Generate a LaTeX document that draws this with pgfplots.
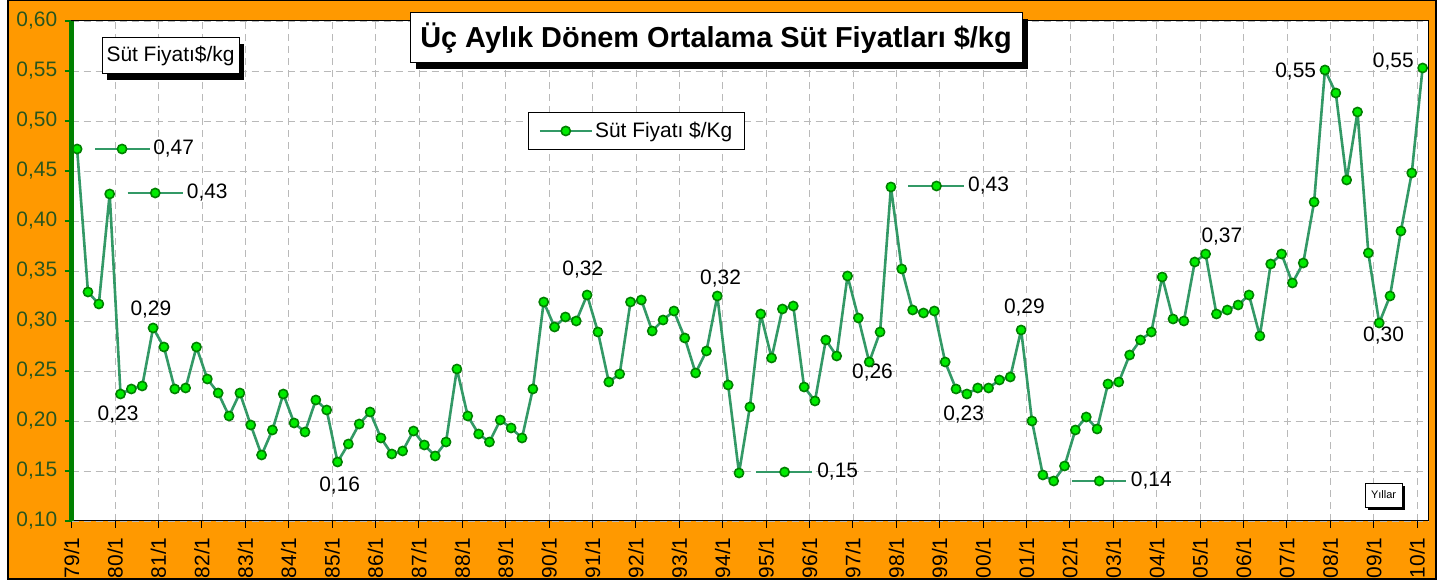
\documentclass[border=0pt]{standalone}
\usepackage{fontspec}
\setmainfont{Liberation Sans}
\usepackage{pgfplots}
\pgfplotsset{compat=1.18}
\usepackage{pgfplotstable}
\usetikzlibrary{shadows}
\definecolor{chartorange}{RGB}{255,153,0}
\definecolor{linegreen}{RGB}{51,153,102}
\definecolor{markfill}{RGB}{0,235,0}
\definecolor{markdraw}{RGB}{0,128,0}
\definecolor{axisgreen}{RGB}{0,128,0}
\definecolor{ticklabgreen}{RGB}{40,85,30}
\newcommand\lab{\fontsize{21}{24}\selectfont}

\pgfplotstableread{
v
0.472
0.329
0.317
0.427
0.227
0.232
0.235
0.293
0.274
0.232
0.233
0.274
0.242
0.228
0.205
0.228
0.196
0.166
0.191
0.227
0.198
0.189
0.221
0.211
0.159
0.177
0.197
0.209
0.183
0.167
0.170
0.190
0.176
0.165
0.179
0.252
0.205
0.187
0.179
0.201
0.193
0.183
0.232
0.319
0.294
0.304
0.300
0.326
0.289
0.239
0.247
0.319
0.321
0.290
0.301
0.310
0.283
0.248
0.270
0.325
0.236
0.148
0.214
0.307
0.263
0.312
0.315
0.234
0.220
0.281
0.265
0.345
0.303
0.259
0.289
0.434
0.352
0.311
0.308
0.310
0.259
0.232
0.227
0.233
0.233
0.241
0.244
0.291
0.200
0.146
0.140
0.155
0.191
0.204
0.192
0.237
0.239
0.266
0.281
0.289
0.344
0.302
0.300
0.359
0.367
0.307
0.311
0.316
0.326
0.285
0.357
0.367
0.338
0.358
0.419
0.551
0.528
0.441
0.509
0.368
0.298
0.325
0.390
0.448
0.553
}\milk

\begin{document}
\begin{tikzpicture}[x=1bp,y=1bp]
\useasboundingbox (0,0) rectangle (1441,584);
\filldraw[fill=chartorange, draw=black, line width=1.5bp] (8,5) rectangle (1436,583.5);
\begin{axis}[
  at={(71.7bp,63bp)}, anchor=south west,
  scale only axis, width=1356.3bp, height=500bp,
  xmin=0, xmax=125, ymin=0.10, ymax=0.60,
  axis background/.style={fill=white},
  axis line style={black, line width=1bp},
  xtick={0,4,...,124},
  xticklabels={79/1,80/1,81/1,82/1,83/1,84/1,85/1,86/1,87/1,88/1,89/1,90/1,91/1,92/1,93/1,94/1,95/1,96/1,97/1,98/1,99/1,00/1,01/1,02/1,03/1,04/1,05/1,06/1,07/1,08/1,09/1,10/1},
  ytick={0.10,0.15,0.20,0.25,0.30,0.35,0.40,0.45,0.50,0.55,0.60},
  grid=major,
  major grid style={gray!55, dash pattern=on 7bp off 5bp, line width=0.8bp},
  tick pos=left, tick align=outside,
  major tick length=7bp,
  every major x tick/.append style={black, line width=1bp},
  every major y tick/.append style={axisgreen, line width=2.5bp},
  xticklabel style={rotate=90, anchor=east, font=\lab},
  xticklabel shift=6bp,
  yticklabel style={font=\lab, text=ticklabgreen,
    /pgf/number format/.cd, fixed, fixed zerofill, precision=2, use comma, assume math mode=true},
  yticklabel shift=4bp,
  clip=false,
  legend style={at={(rel axis cs:0.3364,0.818)}, anchor=north west, draw=black, line width=1bp,
    font=\lab, inner xsep=10bp, inner ysep=8bp},
  legend image code/.code={\draw[mark repeat=2,mark phase=2,#1] plot coordinates {(0bp,0bp) (26bp,0bp) (52bp,0bp)};},
  mystyle/.style={linegreen, line width=2.6bp, line join=round, mark=*, mark size=4.6bp,
    mark options={fill=markfill, draw=markdraw, line width=1.6bp, solid}},
]
\addplot[mystyle] table[x expr=\coordindex+0.5, y=v] {\milk};
\addlegendentry{Süt Fiyatı \$/Kg}
% label keys
\addplot[mystyle, mark indices={2}, forget plot] coordinates {(2.15,0.472)(4.64,0.472)(7.2,0.472)};
\addplot[mystyle, mark indices={2}, forget plot] coordinates {(5.15,0.428)(7.7,0.428)(10.25,0.428)};
\addplot[mystyle, mark indices={2}, forget plot] coordinates {(77.1,0.435)(79.7,0.435)(82.2,0.435)};
\addplot[mystyle, mark indices={2}, forget plot] coordinates {(63.1,0.149)(65.7,0.149)(68.2,0.149)};
\addplot[mystyle, mark indices={2}, forget plot] coordinates {(92.2,0.140)(94.7,0.140)(97.2,0.140)};
\node[font=\lab, anchor=west, inner sep=0pt] at (axis cs:7.5,0.472) {0,47};
\node[font=\lab, anchor=west, inner sep=0pt] at (axis cs:10.6,0.428) {0,43};
\node[font=\lab, anchor=west, inner sep=0pt] at (axis cs:82.6,0.435) {0,43};
\node[font=\lab, anchor=west, inner sep=0pt] at (axis cs:68.7,0.149) {0,15};
\node[font=\lab, anchor=west, inner sep=0pt] at (axis cs:97.6,0.140) {0,14};
% centered labels
\node[font=\lab] at (axis cs:4.27,0.206) {0,23};
\node[font=\lab] at (axis cs:7.3,0.311) {0,29};
\node[font=\lab] at (axis cs:24.7,0.135) {0,16};
\node[font=\lab] at (axis cs:47.1,0.351) {0,32};
\node[font=\lab] at (axis cs:59.8,0.342) {0,32};
\node[font=\lab] at (axis cs:73.8,0.248) {0,26};
\node[font=\lab] at (axis cs:82.2,0.206) {0,23};
\node[font=\lab] at (axis cs:87.8,0.313) {0,29};
\node[font=\lab] at (axis cs:106.0,0.384) {0,37};
\node[font=\lab] at (axis cs:112.8,0.549) {0,55};
\node[font=\lab] at (axis cs:121.8,0.559) {0,55};
\node[font=\lab] at (axis cs:120.9,0.285) {0,30};
\end{axis}
\draw[axisgreen, line width=5bp] (71.7,63) -- (71.7,563);
\node[draw=black, line width=1bp, fill=white, general shadow={fill=black, shadow xshift=6bp, shadow yshift=-6bp},
  minimum width=612bp, minimum height=50bp, inner sep=0pt,
  font=\bfseries\fontsize{29}{34}\selectfont] at (716,546) {Üç Aylık Dönem Ortalama Süt Fiyatları \$/kg};
\node[draw=black, line width=1bp, fill=white, general shadow={fill=black, shadow xshift=5bp, shadow yshift=-6bp},
  minimum width=137bp, minimum height=36bp, inner sep=0pt, font=\lab] at (170.5,528) {Süt Fiyatı\$/kg};
\node[draw=black, line width=0.8bp, fill=white, general shadow={fill=black, shadow xshift=3bp, shadow yshift=-3bp},
  minimum width=37bp, minimum height=24bp, inner sep=0pt, font=\fontsize{11}{13}\selectfont] at (1383.5,89) {Yıllar};
\end{tikzpicture}
\end{document}
